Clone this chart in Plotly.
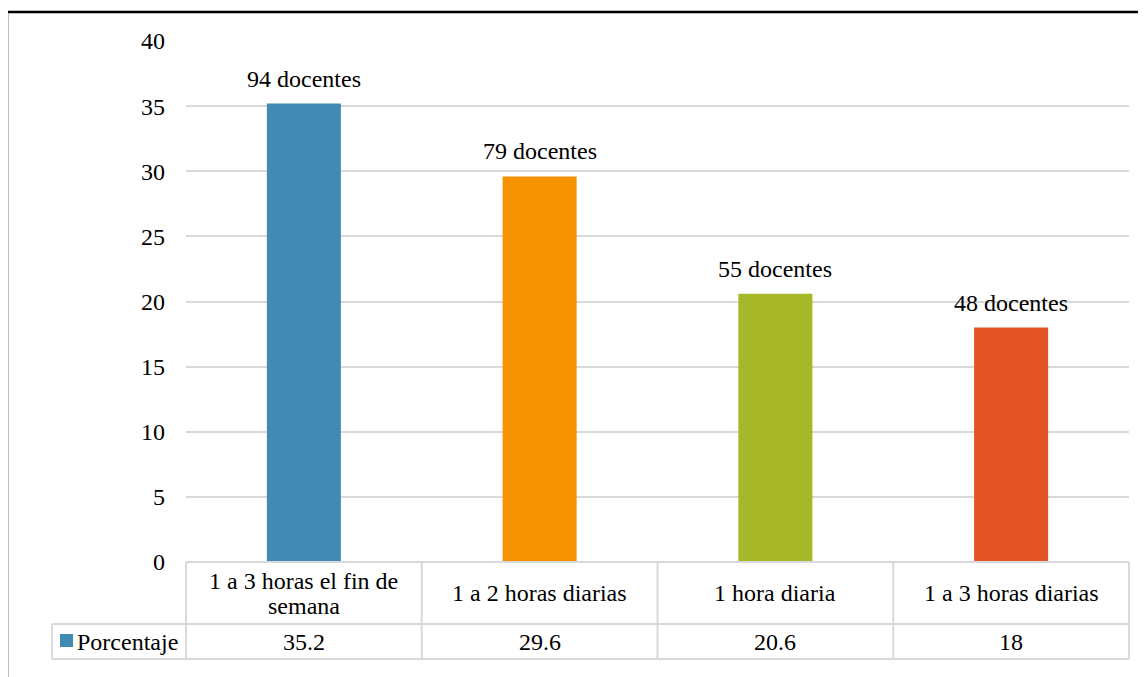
import plotly.graph_objects as go

categories = ["1 a 3 horas el fin de<br>semana", "1 a 2 horas diarias", "1 hora diaria", "1 a 3 horas diarias"]
values = [35.2, 29.6, 20.6, 18]
value_labels = ["35.2", "29.6", "20.6", "18"]
bar_labels = ["94 docentes", "79 docentes", "55 docentes", "48 docentes"]
colors = ["#418AB3", "#F59300", "#A6B727", "#E25426"]
series_name = "Porcentaje"
y_ticks = [0, 5, 10, 15, 20, 25, 30, 35, 40]

W, H = 1146, 677
OFF = 8  # page body margin compensation
FONT = "Liberation Serif"
FS = 24
GRID = "#d9d9d9"

def px(x):
    return (x - OFF) / W

def py(y):
    return 1 - (y - OFF) / H

left, right = 186, 1129
top, bottom = 41, 562
row1, row2 = 624, 659
leg_left = 52
LINE_H = 25

fig = go.Figure()
fig.add_trace(go.Bar(
    x=list(range(len(categories))), y=values,
    marker=dict(color=colors, line=dict(width=0)),
    name=series_name, showlegend=False, hoverinfo="skip",
))

font = dict(family=FONT, size=FS, color="#000")
annotations = []
for i, (v, lab) in enumerate(zip(values, bar_labels)):
    annotations.append(dict(x=i, y=v, xref="x", yref="y", text=lab, showarrow=False,
                            yanchor="bottom", yshift=10, font=font))

ncat = len(categories)
colw = (right - left) / ncat
shapes = []
shapes.append(dict(type="line", xref="paper", yref="paper", x0=px(left), x1=px(right), y0=py(bottom), y1=py(bottom), line=dict(color=GRID, width=2)))
for yy in (row1, row2):
    shapes.append(dict(type="line", xref="paper", yref="paper", x0=px(leg_left), x1=px(right), y0=py(yy), y1=py(yy), line=dict(color=GRID, width=2)))
for k in range(ncat + 1):
    xx = left + k * colw
    shapes.append(dict(type="line", xref="paper", yref="paper", x0=px(xx), x1=px(xx), y0=py(bottom), y1=py(row2), line=dict(color=GRID, width=2)))
shapes.append(dict(type="line", xref="paper", yref="paper", x0=px(leg_left), x1=px(leg_left), y0=py(row1), y1=py(row2), line=dict(color=GRID, width=2)))
shapes.append(dict(type="rect", xref="paper", yref="paper", x0=px(60), x1=px(73), y0=py(647), y1=py(634), fillcolor=colors[0], line=dict(width=0)))
shapes.append(dict(type="rect", xref="paper", yref="paper", x0=px(7), x1=px(W + 40), y0=py(H + 40), y1=py(12), line=dict(color="#000", width=2.5), fillcolor="rgba(0,0,0,0)", layer="above"))

cat_mid = (bottom + row1) / 2
for i, cat in enumerate(categories):
    lines = cat.split("<br>")
    n = len(lines)
    for j, ln in enumerate(lines):
        yc = cat_mid + (j - (n - 1) / 2) * LINE_H
        annotations.append(dict(x=i, y=py(yc), xref="x", yref="paper", text=ln, showarrow=False,
                                yanchor="middle", font=font))
    annotations.append(dict(x=i, y=py((row1 + row2) / 2), xref="x", yref="paper", text=value_labels[i], showarrow=False,
                            yanchor="middle", font=font))
annotations.append(dict(x=px(75), y=py((row1 + row2) / 2), xref="paper", yref="paper", text=series_name, showarrow=False,
                        xanchor="left", yanchor="middle", font=font))

fig.update_layout(
    width=W, height=H, margin=dict(l=0, r=0, t=0, b=0, autoexpand=False),
    paper_bgcolor="white", plot_bgcolor="white",
    bargap=0.686, showlegend=False,
    xaxis=dict(domain=[px(left), px(right)], range=[-0.5, ncat - 0.5], showticklabels=False,
               showgrid=False, zeroline=False, showline=False, fixedrange=True, automargin=False),
    yaxis=dict(domain=[py(bottom), py(top)], range=[0, 40], tickvals=y_ticks, automargin=False,
               showgrid=True, gridcolor=GRID, gridwidth=1.5, zeroline=False, showline=False,
               ticks="", ticklabelstandoff=20, tickfont=font),
    shapes=shapes, annotations=annotations,
)
fig.write_html("out.html")
